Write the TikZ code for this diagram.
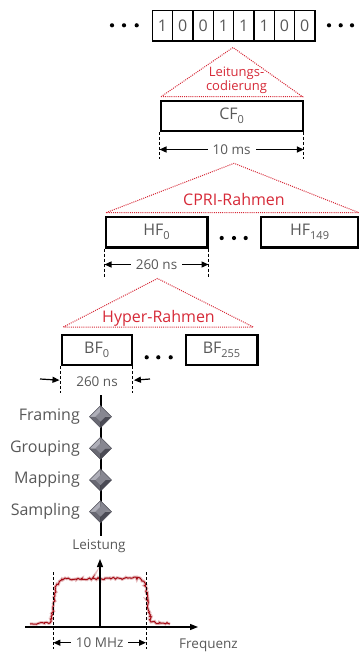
\documentclass[tikz,border=0pt]{standalone}
\usepackage{fontspec}
\setmainfont{Open Sans}
\usetikzlibrary{arrows.meta,decorations.pathmorphing,calc}
\definecolor{txt}{RGB}{88,88,88}
\definecolor{rd}{RGB}{214,42,56}
\definecolor{spec}{RGB}{165,10,20}
\definecolor{gA}{RGB}{175,175,185}
\definecolor{gB}{RGB}{135,135,145}
\definecolor{gC}{RGB}{105,105,115}
\definecolor{gD}{RGB}{75,75,85}
\newcommand\lowsub[1]{\raisebox{-3.5pt}{\fontsize{11}{11}\selectfont #1}}
\begin{document}
\begin{tikzpicture}[x=1pt,y=-1pt,
  bigtext/.style={font=\fontsize{16}{18}\selectfont},
  smalltext/.style={font=\fontsize{13.5}{15}\selectfont},
  bitbox/.style={draw=black,line width=1.2pt,minimum width=20.33pt,minimum height=30.5pt,inner sep=0pt,text=txt,bigtext},
  framebox/.style={draw=black,line width=2.4pt,inner sep=0pt,text=txt,bigtext},
  tri/.style={draw=rd,line width=1pt,dash pattern=on 1pt off 1.1pt},
  redlbl/.style={text=rd,bigtext,inner sep=0pt},
  guide/.style={draw=black,line width=0.9pt,dash pattern=on 3pt off 2pt},
  dimarrow/.style={line width=1.2pt,{Triangle[length=7pt,width=6pt]}-{Triangle[length=7pt,width=6pt]}},
  onearrow/.style={line width=1.2pt,-{Triangle[length=7pt,width=6pt]}},
  axis/.style={line width=1.2pt,-{Triangle[length=8pt,width=6pt]}},
  dimlbl/.style={text=txt,smalltext,fill=white,inner xsep=5pt,inner ysep=1pt},
  steplbl/.style={text=txt,bigtext,anchor=east,inner sep=0pt},
  dotmark/.style={circle,fill=black,inner sep=0pt,minimum size=4.2pt},
  gem/.pic={
    \fill[gA] (0,0) -- (-11,0) -- (0,-11) -- cycle;
    \fill[gB] (0,0) -- (11,0) -- (0,-11) -- cycle;
    \fill[gC] (0,0) -- (-11,0) -- (0,11) -- cycle;
    \fill[gD] (0,0) -- (11,0) -- (0,11) -- cycle;
    \fill[gB] (-5,0) -- (0,-5) -- (5,0) -- (0,5) -- cycle;
    \draw[gD,line width=0.6pt] (-11,0) -- (0,-11) -- (11,0) -- (0,11) -- cycle;
  }]
\useasboundingbox (0,0) rectangle (359,654);

% ---- bit row
\foreach \b [count=\i] in {1,0,0,1,1,1,0,0}{
  \node[bitbox] (bit\i) at ({152.3+10.17+(\i-1)*20.33},25.8) {\b};
}
\foreach \x [count=\i] in {112,124,136.7}{\node[dotmark] (ld\i) at (\x,25.3) {};}
\foreach \x [count=\i] in {329,340.7,352}{\node[dotmark] (rd\i) at (\x,25.3) {};}

% ---- CF level
\coordinate (t1a) at (233,47.5);
\coordinate (t1l) at (161,96.7);
\coordinate (t1r) at (302.5,96.7);
\draw[tri] (t1l) -- (t1a) -- (t1r) -- cycle;
\node[text=rd,font=\fontsize{13}{14}\selectfont,align=center,inner sep=0pt] (lc) at (236.5,80.5) {Leitungs-\\codierung};
\node[framebox,minimum width=142pt,minimum height=30pt] (cf) at (231.7,115.7) {CF\lowsub{0}};
\coordinate (g1t) at (cf.south west);
\coordinate (g1b) at ($(cf.south west)+(0,27)$);
\coordinate (g2t) at (cf.south east);
\coordinate (g2b) at ($(cf.south east)+(0,27)$);
\draw[guide] (g1t) -- (g1b);
\draw[guide] (g2t) -- (g2b);
\coordinate (d1l) at ($(cf.south west)+(0,17.6)$);
\coordinate (d1r) at ($(cf.south east)+(0,17.6)$);
\draw[dimarrow] (d1l) -- (d1r) node[dimlbl,midway] (tenms) {10 ms};

% ---- HF level
\coordinate (t2a) at (234,163.3);
\coordinate (t2l) at (106,212.7);
\coordinate (t2r) at (359,212.7);
\draw[tri] (t2l) -- (t2a) -- (t2r) -- cycle;
\node[redlbl] (cpri) at (234,199) {CPRI-Rahmen};
\node[framebox,minimum width=101.6pt,minimum height=30.6pt] (hf0) at (156.5,232) {HF\lowsub{0}};
\node[framebox,minimum width=97.8pt,minimum height=30.6pt] (hf149) at (309.6,232) {HF\lowsub{149}};
\foreach \x [count=\i] in {221.7,234,245.7}{\node[dotmark] (hd\i) at (\x,238) {};}
\coordinate (g3b) at ($(hf0.south west)+(0,28)$);
\coordinate (g4b) at ($(hf0.south east)+(0,28)$);
\draw[guide] (hf0.south west) -- (g3b);
\draw[guide] (hf0.south east) -- (g4b);
\coordinate (d2l) at ($(hf0.south west)+(0,16)$);
\coordinate (d2r) at ($(hf0.south east)+(0,16)$);
\draw[dimarrow] (d2l) -- (d2r) node[dimlbl,midway] (hns) {260 ns};

% ---- BF level
\coordinate (t3a) at (157.5,278.5);
\coordinate (t3l) at (63.3,327);
\coordinate (t3r) at (253.3,327);
\draw[tri] (t3l) -- (t3a) -- (t3r) -- cycle;
\node[redlbl] (hyper) at (158.5,318) {Hyper-Rahmen};
\node[framebox,minimum width=70pt,minimum height=30pt] (bf0) at (96.7,350) {BF\lowsub{0}};
\node[framebox,minimum width=71.6pt,minimum height=30pt] (bf255) at (221.5,350) {BF\lowsub{255}};
\foreach \x [count=\i] in {146.7,158.3,170.7}{\node[dotmark] (bd\i) at (\x,357.3) {};}
\coordinate (g5b) at ($(bf0.south west)+(0,27)$);
\coordinate (g6b) at ($(bf0.south east)+(0,27)$);
\draw[guide] (bf0.south west) -- (g5b);
\draw[guide] (bf0.south east) -- (g6b);
\coordinate (a1s) at (40,379);
\coordinate (a1e) at ($(bf0.south west)+(-1,14)$);
\coordinate (a2s) at (150,379);
\coordinate (a2e) at ($(bf0.south east)+(1,14)$);
\draw[onearrow] (a1s) -- (a1e);
\draw[onearrow] (a2s) -- (a2e);
\node[text=txt,smalltext,inner sep=0pt] (bns) at (97,381.5) {260 ns};

% ---- processing chain
\coordinate (chtop) at (100.5,395);
\coordinate (chbot) at (100.5,536);
\draw[line width=2pt] (chtop) -- (chbot);
\foreach \y/\t/\n in {416.7/Framing/fr,448.3/Grouping/gr,480/Mapping/mp,511.7/Sampling/sm}{
  \coordinate (\n) at (100.5,\y);
  \pic at (\n) {gem};
  \node[steplbl] (\n lbl) at (80,\y) {\t};
}

% ---- spectrum
\node[text=txt,smalltext,inner sep=0pt] (leist) at (99,546) {Leistung};
\coordinate (orig) at (100,627);
\coordinate (ytop) at (100,559);
\coordinate (xl) at (25,627);
\coordinate (xr) at (198,627);
\pgfmathsetseed{11}
\draw[spec!45,line width=3pt,opacity=0.6,decorate,decoration={random steps,segment length=1.5pt,amplitude=1.1pt}]
  (30,624) -- (50,623) -- (53,610) -- (56,586) -- (62,579) -- (140,578) -- (145,583) -- (148,604) -- (151,622) -- (170,624);
\pgfmathsetseed{11}
\draw[spec,line width=1pt,decorate,decoration={random steps,segment length=1.5pt,amplitude=1.1pt}]
  (30,624) -- (50,623) -- (53,610) -- (56,586) -- (62,579) -- (140,578) -- (145,583) -- (148,604) -- (151,622) -- (170,624);
\draw[axis] (xl) -- (xr);
\draw[axis] (orig) -- (ytop);
\node[text=txt,smalltext,inner sep=0pt] (freq) at (208.5,645) {Frequenz};
\coordinate (s1t) at (53.3,572);
\coordinate (s1b) at (53.3,649);
\coordinate (s2t) at (146,572);
\coordinate (s2b) at (146,649);
\draw[guide] (s1t) -- (s1b);
\draw[guide] (s2t) -- (s2b);
\coordinate (d3l) at (53.3,642.7);
\coordinate (d3r) at (146,642.7);
\draw[dimarrow] (d3l) -- (d3r) node[dimlbl,midway] (mhz) {10 MHz};
\end{tikzpicture}
\end{document}
